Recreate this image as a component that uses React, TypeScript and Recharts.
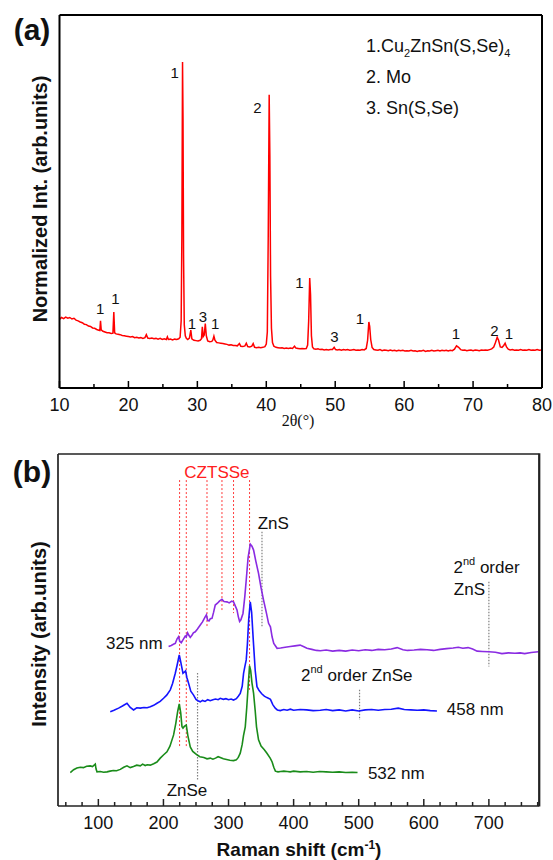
import React from 'react';
import { ComposedChart, Line, XAxis, YAxis, Scatter, ReferenceLine } from 'recharts';

const SANS = '"Liberation Sans", Arial, Helvetica, sans-serif';
const SERIF = '"Liberation Serif", "Times New Roman", serif';

// ---------- (a) XRD ----------
const xrdTicks = [10, 15, 20, 25, 30, 35, 40, 45, 50, 55, 60, 65, 70, 75, 80];
const xrdPattern: [number, number][] = [
  [10.0, 18.4], [10.3, 18.9], [10.6, 18.6], [10.9, 19.0], [11.2, 18.7], [11.5, 18.9], [11.8, 18.5], [12.1, 18.7],
  [12.4, 18.2], [12.7, 18.0], [13.0, 17.7], [13.3, 17.5], [13.6, 17.1], [13.9, 17.0], [14.2, 16.6], [14.5, 16.5],
  [14.8, 16.1], [15.1, 16.0], [15.4, 15.7], [15.7, 15.5], [15.85, 15.4], [15.95, 18.0], [16.05, 15.6], [16.3, 15.2],
  [16.6, 15.0], [16.9, 14.8], [17.2, 14.8], [17.5, 14.6], [17.75, 14.7], [17.88, 20.4], [18.0, 14.8], [18.2, 14.5],
  [18.5, 14.4], [18.8, 14.3], [19.1, 14.1], [19.4, 14.0], [19.7, 13.9], [20.0, 13.8], [20.3, 13.7], [20.6, 13.8],
  [20.9, 13.5], [21.2, 13.6], [21.5, 13.4], [21.8, 13.5], [22.1, 13.3], [22.4, 13.5], [22.6, 14.3], [22.8, 13.4],
  [23.1, 13.3], [23.4, 13.4], [23.7, 13.2], [24.0, 13.3], [24.3, 13.1], [24.6, 13.3], [24.9, 13.0], [25.2, 13.2],
  [25.5, 13.0], [25.65, 13.7], [25.8, 13.0], [26.1, 13.1], [26.4, 12.9], [26.7, 13.1], [27.0, 13.0], [27.3, 13.2],
  [27.5, 13.6], [27.65, 18.0], [27.75, 40.0], [27.85, 87.4], [27.92, 72.0], [28.0, 35.0], [28.1, 17.0], [28.25, 14.0],
  [28.4, 13.3], [28.6, 13.0], [28.85, 13.4], [29.05, 15.5], [29.2, 13.2], [29.5, 12.8], [29.8, 12.7], [30.1, 12.6],
  [30.4, 12.8], [30.6, 13.2], [30.72, 16.4], [30.85, 13.8], [31.0, 14.2], [31.15, 17.3], [31.3, 14.0], [31.5, 12.6],
  [31.8, 12.4], [32.1, 12.5], [32.25, 12.9], [32.4, 13.9], [32.55, 12.8], [32.8, 12.2], [33.1, 12.1], [33.4, 12.0],
  [33.7, 11.9], [34.0, 11.8], [34.3, 11.7], [34.6, 11.5], [34.9, 11.6], [35.2, 11.4], [35.5, 11.4], [35.8, 11.3],
  [36.1, 11.9], [36.3, 11.2], [36.6, 11.1], [36.9, 11.3], [37.1, 12.0], [37.3, 11.1], [37.6, 11.0], [37.9, 11.2],
  [38.1, 11.9], [38.3, 10.9], [38.6, 10.8], [38.9, 10.9], [39.2, 10.8], [39.5, 10.9], [39.8, 11.1], [40.0, 11.8],
  [40.15, 15.0], [40.28, 40.0], [40.42, 78.6], [40.52, 62.0], [40.62, 30.0], [40.75, 16.0], [40.9, 12.2], [41.1, 11.2],
  [41.4, 10.9], [41.7, 10.8], [42.0, 10.7], [42.3, 10.8], [42.6, 10.6], [42.9, 10.7], [43.2, 10.6], [43.5, 10.7],
  [43.8, 10.6], [44.1, 11.2], [44.3, 10.7], [44.6, 10.6], [44.9, 10.5], [45.2, 10.6], [45.5, 10.5], [45.8, 10.6],
  [46.0, 11.5], [46.15, 18.0], [46.3, 29.5], [46.42, 25.0], [46.55, 14.0], [46.7, 11.0], [46.9, 10.5], [47.2, 10.4],
  [47.5, 10.5], [47.8, 10.3], [48.1, 10.4], [48.4, 10.2], [48.7, 10.3], [49.0, 10.2], [49.3, 10.3], [49.6, 10.3],
  [49.85, 10.9], [50.05, 10.3], [50.3, 10.2], [50.6, 10.3], [50.9, 10.1], [51.2, 10.3], [51.5, 10.2], [51.8, 10.3],
  [52.1, 10.1], [52.4, 10.2], [52.7, 10.3], [53.0, 10.1], [53.3, 10.2], [53.6, 10.1], [53.9, 10.3], [54.2, 10.2],
  [54.5, 10.6], [54.7, 12.8], [54.88, 17.7], [55.0, 16.5], [55.15, 13.0], [55.35, 10.9], [55.6, 10.3], [55.9, 10.2],
  [56.2, 10.1], [56.5, 10.3], [56.8, 10.0], [57.1, 10.2], [57.4, 10.1], [57.7, 10.0], [58.0, 10.2], [58.3, 10.0],
  [58.6, 10.1], [58.9, 9.9], [59.2, 10.1], [59.5, 10.0], [59.8, 10.1], [60.1, 9.9], [60.4, 10.0], [60.7, 9.9],
  [61.0, 10.1], [61.3, 9.9], [61.6, 10.0], [61.9, 9.8], [62.2, 10.0], [62.5, 9.9], [62.8, 10.1], [63.1, 9.8],
  [63.4, 10.0], [63.7, 9.9], [64.0, 10.1], [64.3, 9.9], [64.6, 10.0], [64.9, 10.1], [65.2, 9.9], [65.5, 10.1],
  [65.8, 10.0], [66.1, 10.1], [66.4, 9.9], [66.7, 10.1], [67.0, 10.0], [67.3, 10.4], [67.6, 11.3], [67.9, 10.9],
  [68.2, 10.3], [68.5, 10.1], [68.8, 10.2], [69.1, 10.0], [69.4, 10.1], [69.7, 10.2], [70.0, 10.0], [70.3, 10.2],
  [70.6, 10.1], [70.9, 10.0], [71.2, 10.2], [71.5, 10.1], [71.8, 10.2], [72.1, 10.1], [72.4, 10.3], [72.7, 10.5],
  [73.0, 11.0], [73.25, 12.2], [73.5, 13.6], [73.7, 12.8], [73.95, 11.0], [74.2, 10.9], [74.45, 11.4], [74.65, 12.0],
  [74.85, 11.0], [75.1, 10.4], [75.4, 10.2], [75.7, 10.3], [76.0, 10.1], [76.3, 10.2], [76.6, 10.1], [76.9, 10.3],
  [77.2, 10.1], [77.5, 10.2], [77.8, 10.1], [78.1, 10.3], [78.4, 10.1], [78.7, 10.2], [79.0, 10.1], [79.3, 10.3],
  [79.6, 10.1], [80.0, 10.2],
];
const xrdPeakLabels = [
  { x: 26.7, y: 84.5, text: '1' }, { x: 38.7, y: 75.3, text: '2' }, { x: 15.9, y: 21.4, text: '1' },
  { x: 18.1, y: 24.1, text: '1' }, { x: 29.2, y: 17.2, text: '1' }, { x: 30.8, y: 19.3, text: '3' },
  { x: 32.6, y: 17.2, text: '1' }, { x: 44.8, y: 28.4, text: '1' }, { x: 49.9, y: 13.9, text: '3' },
  { x: 53.6, y: 18.5, text: '1' }, { x: 67.5, y: 14.7, text: '1' }, { x: 73.1, y: 15.5, text: '2' },
  { x: 75.2, y: 14.7, text: '1' },
];

// ---------- (b) Raman ----------
const ramanDomain: [number, number] = [38, 777];
const ramanTicks = [50, 75, 100, 125, 150, 175, 200, 225, 250, 275, 300, 325, 350, 375, 400, 425, 450, 475, 500,
  525, 550, 575, 600, 625, 650, 675, 700, 725, 750, 775];
const raman325: [number, number][] = [
  [207.9, 45.3], [212, 45.6], [216, 46.0], [218.2, 46.2], [221, 47.5], [223.3, 48.1], [225, 46.8], [227.4, 46.4],
  [230, 47.2], [233.5, 48.3], [235, 48.0], [237.1, 49.2], [239, 48.5], [241.2, 47.9], [244, 48.6], [246, 49.2],
  [248.9, 49.5], [252, 50.2], [256.6, 51.4], [260, 52.3], [264.3, 53.8], [266, 54.3], [267.8, 52.8], [270, 52.6],
  [272, 53.2], [274.6, 53.3], [277, 55.0], [279.6, 57.1], [283, 57.6], [286, 58.2], [289.9, 58.7], [293, 58.1],
  [297.6, 58.0], [301, 57.7], [305, 58.2], [307.7, 58.0], [310, 57.0], [313, 55.7], [315, 53.8], [317, 52.4],
  [319, 52.9], [322.2, 54.7], [325, 59.5], [327.2, 64.2], [330, 70.5], [333.4, 74.4], [336, 73.8], [338.5, 72.7],
  [342, 69.5], [346.1, 66.1], [350, 62.0], [353.8, 58.5], [358, 55.0], [361.5, 51.9], [364.4, 50.9], [367, 48.0],
  [369.5, 46.2], [374.6, 44.8], [380, 44.9], [387, 45.1], [394.8, 45.3], [402, 45.5], [410, 45.7], [415, 45.3],
  [420.5, 44.8], [428, 44.5], [435, 44.2], [441, 44.1], [450, 44.3], [460, 44.0], [470, 44.2], [480, 44.0],
  [490, 44.3], [500, 44.1], [510, 44.4], [520, 44.2], [530, 44.5], [540, 44.4], [550, 44.6], [559, 45.0],
  [568, 44.4], [575, 44.2], [585, 44.3], [595, 44.5], [605, 44.4], [615, 44.2], [625, 44.5], [635, 44.7],
  [645, 44.9], [653, 45.1], [660, 44.8], [668, 45.0], [675, 44.6], [682, 44.0], [690, 43.9], [700, 43.8],
  [710, 43.7], [720, 43.3], [730, 43.5], [740, 43.4], [748, 43.5], [755, 43.3], [765, 43.6], [776, 43.8],
];
const raman458: [number, number][] = [
  [118.3, 26.8], [124, 27.2], [131.1, 27.8], [137, 28.4], [144, 29.2], [149, 28.0], [154.1, 27.3], [159, 27.9],
  [164.4, 27.8], [170, 28.0], [175, 27.9], [179.8, 28.2], [185, 28.6], [190.1, 29.2], [195, 29.7], [200.2, 30.6],
  [205, 31.5], [210.5, 33.0], [214, 34.8], [218.2, 37.7], [221, 40.0], [224.3, 42.9], [226.5, 41.0], [230, 37.7],
  [232, 38.0], [234, 38.4], [236, 36.5], [238.6, 34.9], [242, 32.6], [246.3, 31.5], [250, 30.3], [253, 29.9],
  [256.6, 29.6], [260, 30.0], [264, 29.7], [268, 30.2], [271.9, 29.9], [276, 30.2], [280, 30.4], [284, 30.2],
  [287.3, 30.6], [292, 30.3], [296, 30.5], [300, 30.2], [304, 30.4], [307.7, 30.1], [312, 30.5], [315, 31.2],
  [318, 32.0], [321, 34.0], [323.1, 37.7], [325, 39.5], [327.2, 41.5], [329, 46.0], [331, 53.0], [333.4, 58.0],
  [335.5, 55.0], [338, 47.2], [341, 38.5], [343.7, 33.9], [347, 32.8], [351, 31.9], [355, 31.2], [359, 30.8],
  [364.4, 30.3], [368, 28.8], [371.8, 27.8], [375, 27.3], [379.5, 27.1], [385, 27.4], [390, 27.2], [395, 27.5],
  [400, 27.2], [410, 27.4], [420, 27.3], [430, 27.1], [441, 27.2], [450, 27.4], [460, 27.1], [470, 27.3],
  [480, 27.0], [490, 27.3], [500, 27.0], [510, 27.3], [520, 27.4], [530, 27.2], [540, 27.4], [550, 27.5],
  [560.7, 27.8], [570, 27.4], [580, 27.3], [590, 27.2], [600, 27.3], [610, 27.1], [620.2, 27.0],
];
const raman532: [number, number][] = [
  [56.9, 9.5], [62, 10.3], [67, 10.8], [72.3, 11.0], [77, 10.9], [82, 11.3], [87.6, 11.4], [91, 11.2],
  [95.3, 11.9], [96.5, 10.5], [97.9, 9.7], [103, 9.8], [108, 9.6], [113.3, 9.7], [118, 9.9], [123, 10.1],
  [128, 10.0], [133.7, 10.4], [139, 11.0], [144, 11.4], [149, 10.9], [154, 11.2], [159, 11.6], [164.4, 11.4],
  [168, 11.9], [172, 11.5], [175, 11.7], [179.8, 11.6], [185, 12.0], [190, 12.5], [195.1, 13.6], [200, 14.5],
  [205.4, 15.4], [210, 17.0], [215.6, 20.2], [219, 23.5], [222, 27.0], [224.3, 29.0], [226.5, 26.5], [228.5, 22.5],
  [230, 22.1], [232, 22.6], [235.1, 23.0], [237.5, 20.0], [241.2, 16.8], [245, 15.5], [251.5, 14.5], [256, 14.0],
  [262, 13.8], [267, 13.4], [271.9, 13.6], [276, 13.3], [280, 13.6], [284, 14.0], [287.3, 13.8], [292, 13.4],
  [297, 13.2], [302, 13.0], [307.7, 12.9], [312, 13.1], [315, 13.8], [318, 15.0], [321, 17.5], [323, 20.0],
  [325.7, 22.5], [328, 28.0], [330.5, 35.0], [332.3, 39.8], [334, 38.5], [336, 35.0], [338.5, 32.0], [341, 27.0],
  [343, 22.5], [346.1, 18.8], [350, 17.0], [355, 16.0], [359, 15.0], [364, 13.6], [367, 12.5], [369.5, 11.0],
  [372, 9.9], [376, 9.7], [380, 9.8], [385, 9.9], [390, 9.8], [394.8, 9.7], [400, 9.9], [410, 9.7],
  [420, 9.8], [430, 9.6], [440, 9.8], [450, 9.7], [460, 9.6], [470, 9.7], [480, 9.5], [490, 9.6], [498.2, 9.5],
];
// CZTSSe modes (red dotted): shift, top, bottom
const cztsseModes = [
  { x: 224.8, top: 92.6, bottom: 16.8 }, { x: 235.1, top: 92.6, bottom: 16.8 },
  { x: 266.9, top: 92.6, bottom: 50.6 }, { x: 289.9, top: 92.6, bottom: 55.2 },
  { x: 307.7, top: 92.6, bottom: 54.8 }, { x: 332.3, top: 92.6, bottom: 33.0 },
];
// secondary phase modes (grey dotted)
const phaseModes = [
  { x: 351.4, top: 77.9, bottom: 50.9 }, { x: 252.4, top: 37.8, bottom: 7.4 },
  { x: 501.3, top: 33.0, bottom: 24.4 }, { x: 700, top: 63.7, bottom: 39.6 },
];
const ramanLabels = [
  { x: 368.7, y: 80.3, text: 'ZnS', ord: '' },
  { x: 155.2, y: 46.2, text: '325 nm', ord: '' },
  { x: 679, y: 27.3, text: '458 nm', ord: '' },
  { x: 557.7, y: 9.3, text: '532 nm', ord: '' },
  { x: 236.2, y: 4.5, text: 'ZnSe', ord: '' },
  { x: 497, y: 37.2, text: ' order ZnSe', ord: 'nd' },
  { x: 696.4, y: 67.8, text: ' order', ord: 'nd' },
  { x: 670.1, y: 61.6, text: 'ZnS', ord: '' },
];
const cztsseLabel = [{ x: 282.2, y: 94.7, text: 'CZTSSe', ord: '' }];

const toPts = (arr: [number, number][]) => arr.map(([x, y]) => ({ x, y }));

const makeTick = (labelStep: number, color: string) => (props: any) => {
  const { x, y, payload } = props;
  const v = payload.value;
  const major = Math.abs(v % labelStep) < 1e-6;
  return (
    <g>
      <line x1={x} x2={x} y1={y} y2={y - (major ? 7 : 4)} stroke={color} strokeWidth={1.5} />
      {major && (
        <text x={x} y={y + 23} textAnchor="middle" fontSize={18} fontFamily={SANS} fill="#111">{v}</text>
      )}
    </g>
  );
};

const PeakText = (props: any) => {
  const { cx, cy, payload } = props;
  return (
    <text x={cx} y={cy} textAnchor="middle" dominantBaseline="central" fontSize={15} fontFamily={SANS} fill="#111">
      {payload.text}
    </text>
  );
};

const makeRamanText = (color: string) => (props: any) => {
  const { cx, cy, payload } = props;
  return (
    <text x={cx} y={cy} textAnchor="middle" dominantBaseline="central" fontSize={17} fontFamily={SANS} fill={color}>
      {payload.ord ? (
        <>
          <tspan>2</tspan>
          <tspan dy={-6} fontSize={11}>{payload.ord}</tspan>
          <tspan dy={6}>{payload.text}</tspan>
        </>
      ) : payload.text}
    </text>
  );
};

const XrdChart = () => (
  <ComposedChart width={553} height={430} margin={{ top: 14, right: 10, left: 58.5, bottom: 12 }}>
    <XAxis dataKey="x" type="number" domain={[10, 80]} ticks={xrdTicks} allowDataOverflow height={30}
      tickSize={0} tickMargin={0} tickLine={false} tick={makeTick(10, '#000')} interval={0}
      axisLine={{ stroke: '#000', strokeWidth: 2 }} />
    <XAxis xAxisId="top" orientation="top" type="number" domain={[10, 80]} height={1} tick={false} tickLine={false}
      axisLine={{ stroke: '#000', strokeWidth: 2 }} />
    <YAxis dataKey="y" type="number" domain={[0, 100]} allowDataOverflow width={1} tick={false} tickLine={false}
      axisLine={{ stroke: '#000', strokeWidth: 2 }} />
    <YAxis yAxisId="right" orientation="right" type="number" domain={[0, 100]} width={1} tick={false} tickLine={false}
      axisLine={{ stroke: '#000', strokeWidth: 2 }} />
    <Line data={toPts(xrdPattern)} dataKey="y" type="linear" stroke="#ff0000" strokeWidth={1.5} dot={false}
      isAnimationActive={false} />
    <Scatter data={xrdPeakLabels} dataKey="y" shape={PeakText} isAnimationActive={false} />
  </ComposedChart>
);

const RamanChart = () => (
  <ComposedChart width={553} height={430} margin={{ top: 23, right: 13, left: 57, bottom: 24 }}>
    <XAxis dataKey="x" type="number" domain={ramanDomain} ticks={ramanTicks} allowDataOverflow height={30}
      tickSize={0} tickMargin={0} tickLine={false} tick={makeTick(100, '#222')} interval={0}
      axisLine={{ stroke: '#222', strokeWidth: 1.7 }} />
    <XAxis xAxisId="top" orientation="top" type="number" domain={ramanDomain} height={1} tick={false} tickLine={false}
      axisLine={{ stroke: '#222', strokeWidth: 1.7 }} />
    <YAxis dataKey="y" type="number" domain={[0, 100]} allowDataOverflow width={1} tick={false} tickLine={false}
      axisLine={{ stroke: '#222', strokeWidth: 1.7 }} />
    <YAxis yAxisId="right" orientation="right" type="number" domain={[0, 100]} width={1} tick={false}
      axisLine={{ stroke: '#222', strokeWidth: 1.7 }} />
    {cztsseModes.map((m, i) => (
      <ReferenceLine key={'c' + i} segment={[{ x: m.x, y: m.top }, { x: m.x, y: m.bottom }]}
        stroke="#ff3b3b" strokeWidth={1} strokeDasharray="2 2" />
    ))}
    {phaseModes.map((m, i) => (
      <ReferenceLine key={'p' + i} segment={[{ x: m.x, y: m.top }, { x: m.x, y: m.bottom }]}
        stroke="#808080" strokeWidth={1.2} strokeDasharray="1.5 1.5" />
    ))}
    <Line data={toPts(raman532)} dataKey="y" type="linear" stroke="#1a8c1a" strokeWidth={1.6} dot={false}
      isAnimationActive={false} />
    <Line data={toPts(raman458)} dataKey="y" type="linear" stroke="#1414ff" strokeWidth={1.6} dot={false}
      isAnimationActive={false} />
    <Line data={toPts(raman325)} dataKey="y" type="linear" stroke="#8a2be2" strokeWidth={1.6} dot={false}
      isAnimationActive={false} />
    <Scatter data={ramanLabels} dataKey="y" shape={makeRamanText('#111')} isAnimationActive={false} />
    <Scatter data={cztsseLabel} dataKey="y" shape={makeRamanText('#ff2020')} isAnimationActive={false} />
  </ComposedChart>
);

export default function App() {
  return (
    <div style={{ position: 'absolute', left: 0, top: 0, width: 553, height: 860, background: '#fff' }}>
      <div style={{ position: 'absolute', left: 0, top: 0 }}><XrdChart /></div>
      <div style={{ position: 'absolute', left: 0, top: 430 }}><RamanChart /></div>
      <svg width={553} height={860} style={{ position: 'absolute', left: 0, top: 0, pointerEvents: 'none' }}>
        <line x1={539.5} x2={539.5} y1={453.2} y2={806.6} stroke="#222" strokeWidth={1.7} />
        <text x={32} y={40} textAnchor="middle" fontSize={30} fontWeight="bold" fontFamily={SANS} fill="#111">(a)</text>
        <text x={32} y={482} textAnchor="middle" fontSize={30} fontWeight="bold" fontFamily={SANS} fill="#111">(b)</text>
        <text transform="translate(46.5,199) rotate(-90)" textAnchor="middle" fontSize={20} fontWeight="bold"
          fontFamily={SANS} fill="#111">Normalized Int. (arb.units)</text>
        <text transform="translate(46,634) rotate(-90)" textAnchor="middle" fontSize={20} fontWeight="bold"
          fontFamily={SANS} fill="#111">Intensity (arb.units)</text>
        <text x={298} y={425.5} textAnchor="middle" fontSize={16} fontFamily={SERIF} fill="#111">2θ(°)</text>
        <text x={299} y={856} textAnchor="middle" fontSize={19} fontWeight="bold" fontFamily={SANS} fill="#111">
          Raman shift (cm<tspan dy={-7} fontSize={12}>-1</tspan><tspan dy={7}>)</tspan>
        </text>
        <text x={366} y={52} fontSize={18} fontFamily={SANS} fill="#111">
          1.Cu<tspan dy={5} fontSize={11}>2</tspan><tspan dy={-5}>ZnSn(S,Se)</tspan><tspan dy={5} fontSize={11}>4</tspan>
        </text>
        <text x={366} y={82.5} fontSize={18} fontFamily={SANS} fill="#111">2. Mo</text>
        <text x={366} y={113.5} fontSize={18} fontFamily={SANS} fill="#111">3. Sn(S,Se)</text>
      </svg>
    </div>
  );
}
